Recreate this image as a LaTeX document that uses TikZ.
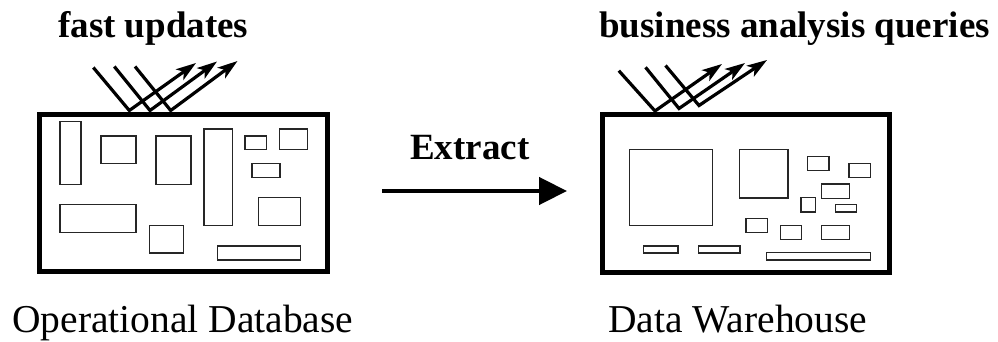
\documentclass[tikz,border=0pt]{standalone}
\usepackage{fontspec}
\setmainfont{Liberation Serif}
\usetikzlibrary{arrows.meta}

\tikzset{
  frame/.style={draw, line width=5pt},
  slot/.style={draw=black!85, line width=1.2pt},
  ray/.style={line width=3.2pt, line join=miter},
  rayarrow/.style={ray, -{Stealth[length=20pt,width=13pt,inset=5pt]}},
  extractarrow/.style={line width=4.5pt, -{Triangle[length=28pt,width=27pt]}},
  toplabel/.style={anchor=base west, inner sep=0pt, font=\fontsize{37}{40}\selectfont\bfseries},
  bottomlabel/.style={anchor=base west, inner sep=0pt, font=\fontsize{39.5}{44}\selectfont},
}

\begin{document}
\begin{tikzpicture}[x=1pt, y=-1pt]
\useasboundingbox (0,0) rectangle (998,342);

% --- operational database -------------------------------------------------
\draw[frame] (39,114.5) rectangle (327.8,271);
\foreach \a/\b/\c/\d in {
    60/121.7/81/184.3, 101/136/136/163.7, 156/136/191/184.3,
    204/129/232.3/225.7, 245/136/266.3/149.7, 279.3/129/307.7/149.7,
    252/163.7/280/177.3, 60/204.7/136/232.3, 258.7/197.7/300.7/225.7,
    149.3/225.3/183.7/253, 217.7/246/300.7/260}
  \draw[slot] (\a,\b) rectangle (\c,\d);

% fast updates: three rays bouncing off the top edge
\coordinate (lsA) at (93.3,67.5);
\coordinate (lbA) at (129.3,110.5);
\coordinate (ltA) at (196,63);
\coordinate (lsB) at (114.3,66.5);
\coordinate (lbB) at (150,110.5);
\coordinate (ltB) at (217,61.5);
\coordinate (lsC) at (135,66.5);
\coordinate (lbC) at (170.7,110.5);
\coordinate (ltC) at (237.5,61);
\draw[rayarrow] (lsA) -- (lbA) -- (ltA);
\draw[rayarrow] (lsB) -- (lbB) -- (ltB);
\draw[rayarrow] (lsC) -- (lbC) -- (ltC);

\node[toplabel] (fast) at (58,37.5) {fast updates};
\node[bottomlabel] (opname) at (12,332) {Operational Database};

% --- data warehouse --------------------------------------------------------
\draw[frame] (602.3,114.5) rectangle (889.5,272.8);
\foreach \a/\b/\c/\d in {
    629.3/149.3/712.3/225.3, 739.3/149.3/788/198, 807.7/156.3/829/170.7,
    849/163.3/870.3/177.3, 821.7/184/849.7/198.3, 801/197.7/815.7/212,
    835.3/204.7/856.7/212, 746/218.3/767.3/232.3, 780.3/225.3/801.7/239.3,
    821.7/225.3/849.7/239.3, 643.3/246/678/253, 698.3/246/740/253,
    766.7/252.7/870.3/260}
  \draw[slot] (\a,\b) rectangle (\c,\d);

% business analysis queries: three rays bouncing off the top edge
\coordinate (rsA) at (618.8,70.7);
\coordinate (rbA) at (655,111);
\coordinate (rtA) at (722,64);
\coordinate (rsB) at (645.5,67.3);
\coordinate (rbB) at (679,108.5);
\coordinate (rtB) at (745,63);
\coordinate (rsC) at (665.5,65.5);
\coordinate (rbC) at (699,105.5);
\coordinate (rtC) at (767,60);
\draw[rayarrow] (rsA) -- (rbA) -- (rtA);
\draw[rayarrow] (rsB) -- (rbB) -- (rtB);
\draw[rayarrow] (rsC) -- (rbC) -- (rtC);

\node[toplabel] (queries) at (599,37.5) {business analysis queries};
\node[bottomlabel] (dwname) at (608,332) {Data Warehouse};

% --- extraction ------------------------------------------------------------
\coordinate (exStart) at (382,191);
\coordinate (exEnd) at (567,191);
\draw[extractarrow] (exStart) -- (exEnd);
\node[toplabel] (extract) at (410,160) {Extract};
\end{tikzpicture}
\end{document}
